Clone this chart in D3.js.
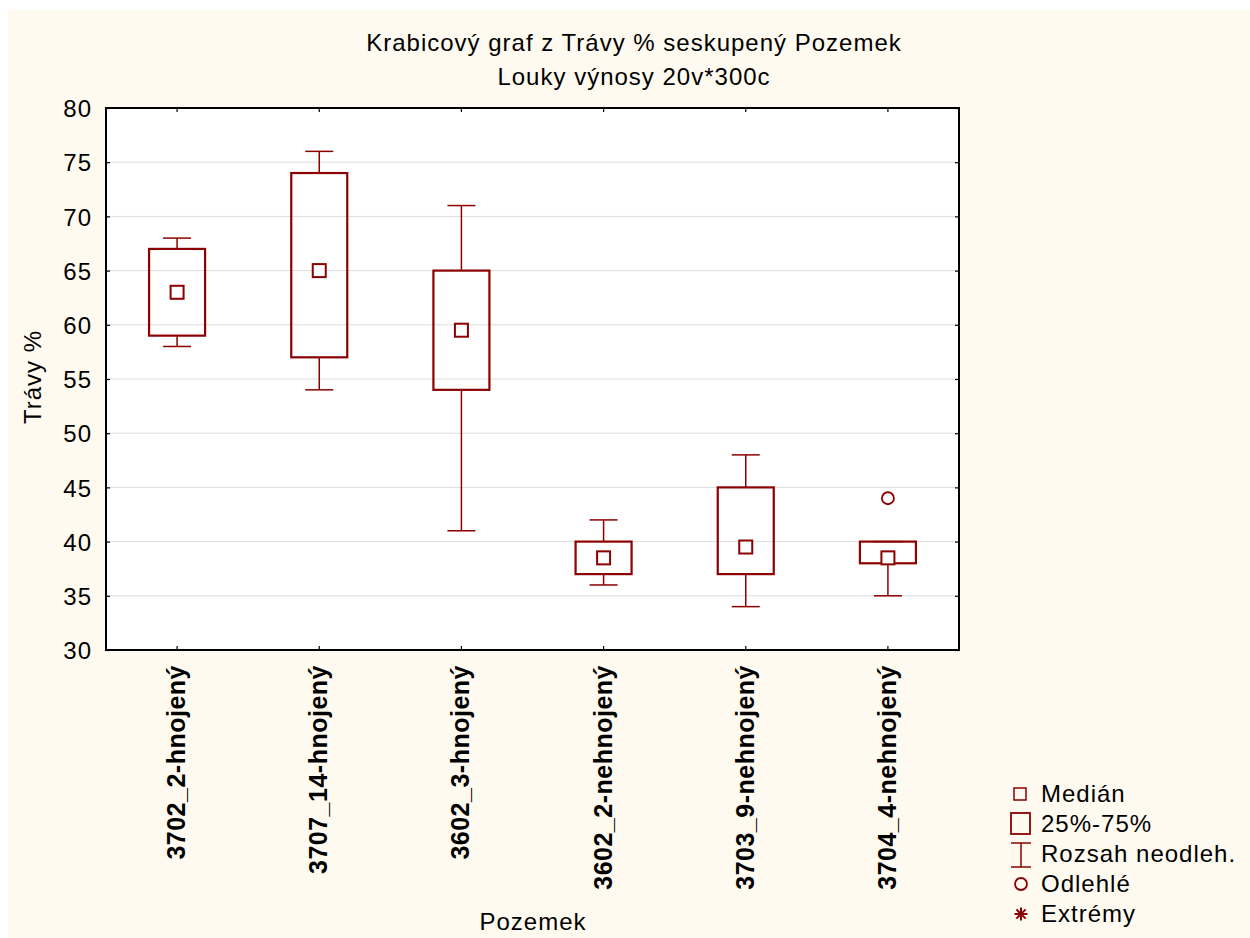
<!DOCTYPE html>
<html>
<head>
<meta charset="utf-8">
<script src="https://cdn.jsdelivr.net/npm/d3@7"></script>
<style>
  html, body { margin: 0; padding: 0; background: #ffffff; }
  svg { display: block; font-family: "Liberation Sans", Arial, sans-serif; }
</style>
</head>
<body>
<svg id="chart" width="1250" height="938"></svg>
<script>
// Box plot data: grass share (%) by plot
const categories = ["3702_2-hnojený", "3707_14-hnojený", "3602_3-hnojený", "3602_2-nehnojený", "3703_9-nehnojený", "3704_4-nehnojený"];
const medians  = [63, 65, 59.5, 38.5, 39.5, 38.5];
const q1       = [59, 57, 54, 37, 37, 38];
const q3       = [67, 74, 65, 40, 45, 40];
const whiskLo  = [58, 54, 41, 36, 34, 35];
const whiskHi  = [68, 76, 71, 42, 48, 40];
const outliers = [[], [], [], [], [], [44]];
const extremes = [[], [], [], [], [], []];
const yTicks   = [30, 35, 40, 45, 50, 55, 60, 65, 70, 75, 80];
const legendLabels = ["Medián", "25%-75%", "Rozsah neodleh.", "Odlehlé", "Extrémy"];

const titleLines = ["Krabicový graf z Trávy % seskupený Pozemek", "Louky výnosy 20v*300c"];
const yLabel = "Trávy %";
const xLabel = "Pozemek";

const color = "#8b0000";
const fs = 24;
const ls = "1px";
const svg = d3.select("#chart");

// panel background
svg.append("rect").attr("x", 8).attr("y", 10).attr("width", 1242).attr("height", 928).attr("fill", "#fffaf0");

const plot = { left: 106, top: 108, right: 959, bottom: 650 };

const x = d3.scaleBand().domain(categories).range([plot.left, plot.right]);
const y = d3.scaleLinear().domain([30, 80]).range([plot.bottom, plot.top]);
const cx = c => x(c) + x.bandwidth() / 2;

// plot area
svg.append("rect")
  .attr("x", plot.left).attr("y", plot.top)
  .attr("width", plot.right - plot.left).attr("height", plot.bottom - plot.top)
  .attr("fill", "#ffffff");

// horizontal grid
svg.append("g").selectAll("line")
  .data(yTicks.filter(t => t > 30 && t < 80))
  .join("line")
  .attr("x1", plot.left).attr("x2", plot.right)
  .attr("y1", d => y(d)).attr("y2", d => y(d))
  .attr("stroke", "#dcdcdc").attr("stroke-width", 1);

// axes with inward ticks
const leftAxis = d3.axisLeft(y).tickValues(yTicks).tickSize(-4);
const gl = svg.append("g").attr("transform", `translate(${plot.left},0)`).call(leftAxis);
gl.selectAll("text")
  .attr("font-size", fs).attr("font-family", "Liberation Sans, Arial, sans-serif")
  .attr("letter-spacing", ls)
  .attr("fill", "#000").attr("text-anchor", "end").attr("x", -14).attr("dy", "0.36em");

const rightAxis = d3.axisRight(y).tickValues(yTicks).tickSize(-4).tickFormat("");
svg.append("g").attr("transform", `translate(${plot.right},0)`).call(rightAxis);

const bottomAxis = d3.axisBottom(x).tickSize(-4).tickFormat("");
svg.append("g").attr("transform", `translate(0,${plot.bottom})`).call(bottomAxis);

const topAxis = d3.axisTop(x).tickSize(-4).tickFormat("");
svg.append("g").attr("transform", `translate(0,${plot.top})`).call(topAxis);

svg.selectAll(".domain").remove();
svg.selectAll(".tick line").attr("stroke", "#000").attr("stroke-width", 1.2);

// frame
svg.append("rect")
  .attr("x", plot.left).attr("y", plot.top)
  .attr("width", plot.right - plot.left).attr("height", plot.bottom - plot.top)
  .attr("fill", "none").attr("stroke", "#000").attr("stroke-width", 2);

// category labels (rotated, bold)
svg.append("g").selectAll("text")
  .data(categories)
  .join("text")
  .attr("transform", d => `translate(${cx(d) + 8},${plot.bottom + 15}) rotate(-90)`)
  .attr("text-anchor", "end")
  .attr("font-size", 25)
  .attr("letter-spacing", "0.5px")
  .attr("font-weight", "bold")
  .attr("fill", "#000")
  .text(d => d);

// boxes
const boxW = 56, capW = 28, medS = 13;
const groups = svg.append("g").selectAll("g")
  .data(categories.map((c, i) => ({ c, i })))
  .join("g");

// whiskers
groups.append("line")
  .attr("x1", d => cx(d.c)).attr("x2", d => cx(d.c))
  .attr("y1", d => y(q3[d.i])).attr("y2", d => y(whiskHi[d.i]))
  .attr("stroke", color).attr("stroke-width", 1.5);
groups.append("line")
  .attr("x1", d => cx(d.c)).attr("x2", d => cx(d.c))
  .attr("y1", d => y(q1[d.i])).attr("y2", d => y(whiskLo[d.i]))
  .attr("stroke", color).attr("stroke-width", 1.5);
groups.append("line")
  .attr("x1", d => cx(d.c) - capW / 2).attr("x2", d => cx(d.c) + capW / 2)
  .attr("y1", d => y(whiskHi[d.i])).attr("y2", d => y(whiskHi[d.i]))
  .attr("stroke", color).attr("stroke-width", 1.5);
groups.append("line")
  .attr("x1", d => cx(d.c) - capW / 2).attr("x2", d => cx(d.c) + capW / 2)
  .attr("y1", d => y(whiskLo[d.i])).attr("y2", d => y(whiskLo[d.i]))
  .attr("stroke", color).attr("stroke-width", 1.5);

// interquartile box
groups.append("rect")
  .attr("x", d => cx(d.c) - boxW / 2)
  .attr("y", d => y(q3[d.i]))
  .attr("width", boxW)
  .attr("height", d => y(q1[d.i]) - y(q3[d.i]))
  .attr("fill", "none").attr("stroke", color).attr("stroke-width", 2.2);

// median marker
groups.append("rect")
  .attr("x", d => cx(d.c) - medS / 2)
  .attr("y", d => y(medians[d.i]) - medS / 2)
  .attr("width", medS).attr("height", medS)
  .attr("fill", "#ffffff").attr("stroke", color).attr("stroke-width", 2);

// outliers
groups.selectAll("circle")
  .data(d => outliers[d.i].map(v => ({ c: d.c, v })))
  .join("circle")
  .attr("cx", d => cx(d.c)).attr("cy", d => y(d.v))
  .attr("r", 6)
  .attr("fill", "none").attr("stroke", color).attr("stroke-width", 1.8);

// extremes
groups.selectAll("text.extreme")
  .data(d => extremes[d.i].map(v => ({ c: d.c, v })))
  .join("text")
  .attr("class", "extreme")
  .attr("x", d => cx(d.c)).attr("y", d => y(d.v) + 7)
  .attr("text-anchor", "middle").attr("fill", color).attr("font-size", fs)
  .text("*");

// titles
svg.append("g").selectAll("text")
  .data(titleLines)
  .join("text")
  .attr("x", 634).attr("y", (d, i) => 51 + i * 34)
  .attr("text-anchor", "middle").attr("font-size", fs).attr("letter-spacing", ls).attr("fill", "#000")
  .text(d => d);

// axis labels
svg.append("text")
  .attr("transform", `translate(41,${(plot.top + plot.bottom) / 2 - 2}) rotate(-90)`)
  .attr("text-anchor", "middle").attr("font-size", fs).attr("letter-spacing", ls).attr("fill", "#000")
  .text(yLabel);
svg.append("text")
  .attr("x", 533).attr("y", 930)
  .attr("text-anchor", "middle").attr("font-size", fs).attr("letter-spacing", ls).attr("fill", "#000")
  .text(xLabel);

// legend
const lg = svg.append("g");
const lx = 1021, ly0 = 794, ldy = 30;
lg.selectAll("text")
  .data(legendLabels)
  .join("text")
  .attr("x", 1041).attr("y", (d, i) => ly0 + i * ldy + 8)
  .attr("font-size", fs).attr("letter-spacing", ls).attr("fill", "#000")
  .text(d => d);
// median symbol
lg.append("rect").attr("x", lx - 7).attr("y", ly0 - 6).attr("width", 12).attr("height", 12)
  .attr("fill", "none").attr("stroke", color).attr("stroke-width", 1.5);
// box symbol
lg.append("rect").attr("x", lx - 10).attr("y", ly0 + ldy - 11).attr("width", 19).attr("height", 21)
  .attr("fill", "none").attr("stroke", color).attr("stroke-width", 1.8);
// whisker symbol
const wy = ly0 + 2 * ldy + 1;
lg.append("line").attr("x1", lx).attr("x2", lx).attr("y1", wy - 12).attr("y2", wy + 12).attr("stroke", color).attr("stroke-width", 1.5);
lg.append("line").attr("x1", lx - 10).attr("x2", lx + 10).attr("y1", wy - 12).attr("y2", wy - 12).attr("stroke", color).attr("stroke-width", 1.5);
lg.append("line").attr("x1", lx - 10).attr("x2", lx + 10).attr("y1", wy + 12).attr("y2", wy + 12).attr("stroke", color).attr("stroke-width", 1.5);
// outlier symbol
lg.append("circle").attr("cx", lx).attr("cy", ly0 + 3 * ldy).attr("r", 6)
  .attr("fill", "none").attr("stroke", color).attr("stroke-width", 1.8);
// extreme symbol (asterisk)
const ey = ly0 + 4 * ldy;
[0, 45, 90, 135].forEach(a => {
  const r = a * Math.PI / 180;
  lg.append("line")
    .attr("x1", lx - 6.5 * Math.sin(r)).attr("x2", lx + 6.5 * Math.sin(r))
    .attr("y1", ey - 6.5 * Math.cos(r)).attr("y2", ey + 6.5 * Math.cos(r))
    .attr("stroke", color).attr("stroke-width", 2);
});
</script>
</body>
</html>
